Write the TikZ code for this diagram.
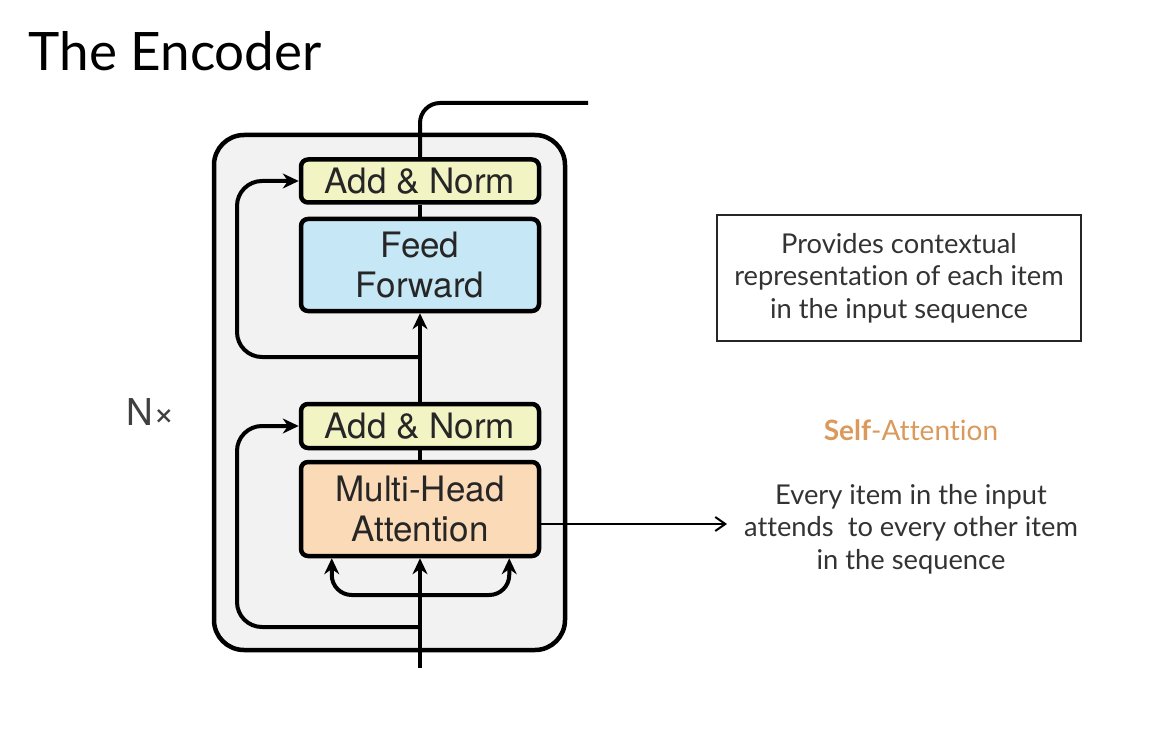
\documentclass[tikz,border=0pt]{standalone}
\usepackage{fontspec}
\setmainfont{Lato}[Ligatures=NoCommon]
\newfontfamily\heros{TeX Gyre Heros}
\usetikzlibrary{arrows.meta}
\definecolor{encfill}{HTML}{F2F2F3}
\definecolor{normfill}{HTML}{F2F4C4}
\definecolor{ffwdfill}{HTML}{C6E7F5}
\definecolor{attnfill}{HTML}{FBDAB7}
\definecolor{selfcol}{HTML}{D99A5B}

\begin{document}
\begin{tikzpicture}[x=1pt,y=-1pt,>={Stealth[length=16pt,width=15pt]},
    block/.style={draw, line width=4.5pt, rounded corners=7pt, minimum width=238pt,
        inner sep=0pt, align=center, text=black!85, font=\heros\fontsize{35}{40}\selectfont},
    conn/.style={line width=4pt},
    note/.style={align=center, text=black!80, font=\fontsize{27.3}{32.5}\selectfont}]
    \useasboundingbox (0,0) rectangle (1162,730);
    \node[anchor=base west, font=\fontsize{53}{60}\selectfont] (title) at (25,71) {The Encoder}; % заголовок

    \draw[line width=4.5pt, fill=encfill, rounded corners=30pt] (214,135) rectangle (565,650); % рамка слоя
    \node[text=black!75, font=\heros\fontsize{37}{40}\selectfont] (nx) at (151,412) {N×};

    \coordinate (in) at (420,668);
    \coordinate (branch) at (420,595);
    \coordinate (res1) at (420,627);
    \coordinate (skip1) at (237,426);
    \coordinate (res2) at (420,357);
    \coordinate (skip2) at (237,181);
    \coordinate (out) at (588,103);
    \coordinate (saend) at (727,524);

    \node[block, fill=normfill, minimum height=43pt] (addtop) at (420,181) {Add \& Norm};
    \node[block, fill=ffwdfill, minimum height=92pt] (ffwd) at (420,265) {Feed\\Forward};
    \node[block, fill=normfill, minimum height=44pt] (addbot) at (420,426) {Add \& Norm};
    \node[block, fill=attnfill, minimum height=94pt] (mha) at (420,509) {Multi-Head\\Attention};

    % связи
    \draw[conn,->] (in) -- (mha.south);
    \draw[conn,->,rounded corners=20pt] (branch) -| ([xshift=33pt]mha.south west);
    \draw[conn,->,rounded corners=20pt] (branch) -| ([xshift=-32pt]mha.south east);
    \draw[conn,->,rounded corners=25pt] (res1) -| (skip1) -- (addbot.west);
    \draw[conn] (mha.north) -- (addbot.south);
    \draw[conn,->] (addbot.north) -- (ffwd.south);
    \draw[conn,->,rounded corners=25pt] (res2) -| (skip2) -- (addtop.west);
    \draw[conn] (ffwd.north) -- (addtop.south);
    \draw[conn,rounded corners=20pt] (addtop.north) |- (out);
    \draw[line width=2pt,-{Straight Barb[length=10pt,width=14pt]}] (mha.east |- saend) -- (saend);

    % пояснения справа
    \node[note, draw=black!85, line width=2pt, minimum width=364pt, minimum height=126pt] (ctx) at (899,278)
        {Provides contextual\\representation of each item\\in the input sequence};
    \node[note, anchor=base, text=selfcol, font=\fontsize{28}{33}\selectfont] (selfatt) at (911,440) {\textbf{Self}-Attention};
    \node[note] (every) at (911,529) {Every item in the input\\attends\ \ to every other item\\in the sequence};
\end{tikzpicture}
\end{document}
